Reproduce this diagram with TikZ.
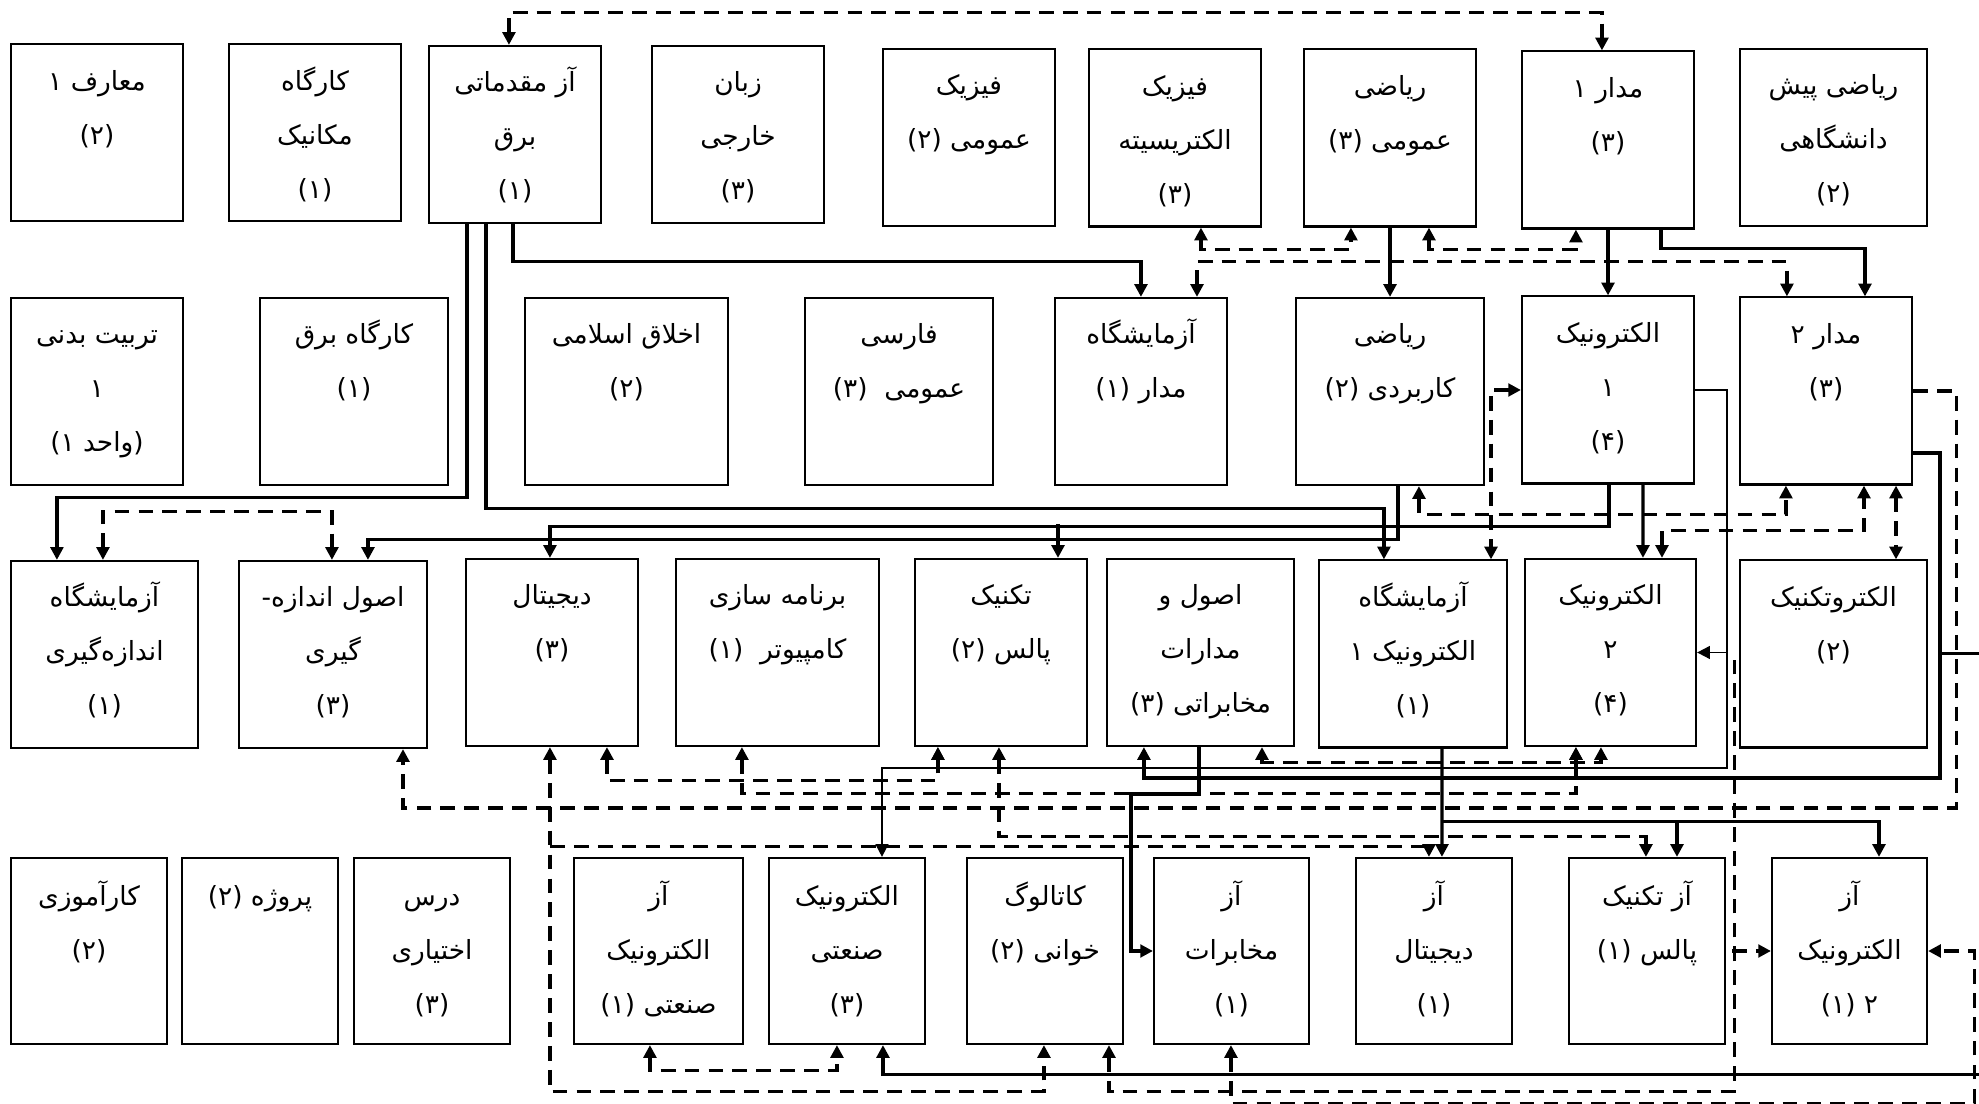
\documentclass[tikz,border=0pt]{standalone}
\usepackage{fontspec}
\usetikzlibrary{arrows.meta}
\TeXXeTstate=1
\newfontfamily\fafont[Script=Arabic]{DejaVu Sans}
\newcommand{\fatext}[1]{\rule{0pt}{2.8mm}\beginR #1\endR}
\tikzset{
    course/.style={draw,line width=0.6pt,inner sep=0pt,minimum width=17.2mm,minimum height=18.7mm},
    topcourse/.style={course,minimum height=17.7mm},
    coursename/.style={anchor=north,align=center,inner sep=0pt,font=\fafont\fontsize{7.5}{15.4}\selectfont},
    prereq/.style={line width=0.9pt},
    heavy/.style={line width=1.1pt},
    fine/.style={line width=0.55pt},
    coreq/.style={line width=0.9pt,dash pattern=on 4.2pt off 2.6pt},
    arr/.style={-{Triangle[length=3.6pt,width=3.6pt]}},
    backarr/.style={{Triangle[length=3.6pt,width=3.6pt]}-},
    both/.style={{Triangle[length=3.6pt,width=3.6pt]}-{Triangle[length=3.6pt,width=3.6pt]}}
}

\begin{document}
\begin{tikzpicture}[x=0.01cm,y=-0.01cm]
    \useasboundingbox (0,0) rectangle (1979,1104);

    \node[topcourse] (maaref) at (97,132.5) {};
    \node[topcourse] (kmek) at (315,132.5) {};
    \node[topcourse] (azmq) at (515,134.5) {};
    \node[topcourse] (zaban) at (738,134.5) {};
    \node[topcourse] (fiz) at (969,137.5) {};
    \node[topcourse] (fizel) at (1175,138) {};
    \node[topcourse] (riaz) at (1390,138) {};
    \node[topcourse] (mad1) at (1608,140) {};
    \node[topcourse,minimum width=18.7mm] (pish) at (1833.5,137.5) {};

    \node[course] (tarb) at (97,391.5) {};
    \node[course,minimum width=18.8mm] (kbargh) at (354,391.5) {};
    \node[course,minimum width=20.3mm] (akhl) at (626.5,391.5) {};
    \node[course,minimum width=18.8mm] (fars) at (899,391.5) {};
    \node[course] (azmad) at (1141,391.5) {};
    \node[course,minimum width=18.8mm] (riazk) at (1390,391.5) {};
    \node[course] (elec1) at (1608,390) {};
    \node[course] (mad2) at (1826,391) {};

    \node[course,minimum width=18.7mm] (azand) at (104.5,654.5) {};
    \node[course,minimum width=18.8mm] (osand) at (333,654.5) {};
    \node[course] (dig) at (552,652.5) {};
    \node[course,minimum width=20.3mm] (barn) at (777.5,652.5) {};
    \node[course] (puls) at (1001,652.5) {};
    \node[course,minimum width=18.7mm] (mokh) at (1200.5,652.5) {};
    \node[course,minimum width=18.8mm] (azel1) at (1413,654) {};
    \node[course,minimum width=17.1mm] (elec2) at (1610.5,652.5) {};
    \node[course,minimum width=18.7mm] (eltech) at (1833.5,654) {};

    \node[course,minimum width=15.6mm,minimum height=18.6mm] (karam) at (89,951) {};
    \node[course,minimum width=15.6mm,minimum height=18.6mm] (proj) at (260,951) {};
    \node[course,minimum width=15.6mm,minimum height=18.6mm] (darse) at (432,951) {};
    \node[course,minimum width=16.9mm,minimum height=18.6mm] (azsan) at (658.5,951) {};
    \node[course,minimum width=15.6mm,minimum height=18.6mm] (elsan) at (847,951) {};
    \node[course,minimum width=15.6mm,minimum height=18.6mm] (katal) at (1045,951) {};
    \node[course,minimum width=15.5mm,minimum height=18.6mm] (azmokh) at (1231.5,951) {};
    \node[course,minimum width=15.6mm,minimum height=18.6mm] (azdig) at (1434,951) {};
    \node[course,minimum width=15.6mm,minimum height=18.6mm] (azpuls) at (1647,951) {};
    \node[course,minimum width=15.5mm,minimum height=18.6mm] (azel2) at (1849.5,951) {};

    \node[coursename] (maarefT) at ([yshift=-1.9mm]maaref.north) {\fatext{معارف ۱}\\\fatext{(۲)}};
    \node[coursename] (kmekT) at ([yshift=-1.9mm]kmek.north) {\fatext{کارگاه}\\\fatext{مکانیک}\\\fatext{(۱)}};
    \node[coursename] (azmqT) at ([yshift=-1.8mm]azmq.north) {\fatext{آز مقدماتی}\\\fatext{برق}\\\fatext{(۱)}};
    \node[coursename] (zabanT) at ([yshift=-1.8mm]zaban.north) {\fatext{زبان}\\\fatext{خارجی}\\\fatext{(۳)}};
    \node[coursename] (fizT) at ([yshift=-1.8mm]fiz.north) {\fatext{فیزیک}\\\fatext{عمومی (۲)}};
    \node[coursename] (fizelT) at ([yshift=-1.8mm]fizel.north) {\fatext{فیزیک}\\\fatext{الکتریسیته}\\\fatext{(۳)}};
    \node[coursename] (riazT) at ([yshift=-1.8mm]riaz.north) {\fatext{ریاضی}\\\fatext{عمومی (۳)}};
    \node[coursename] (mad1T) at ([yshift=-1.8mm]mad1.north) {\fatext{مدار ۱}\\\fatext{(۳)}};
    \node[coursename] (pishT) at ([yshift=-1.8mm]pish.north) {\fatext{ریاضی پیش}\\\fatext{دانشگاهی}\\\fatext{(۲)}};

    \node[coursename] (tarbT) at ([yshift=-1.8mm]tarb.north) {\fatext{تربیت بدنی}\\\fatext{۱}\\\fatext{(واحد ۱)}};
    \node[coursename] (kbarghT) at ([yshift=-1.8mm]kbargh.north) {\fatext{کارگاه برق}\\\fatext{(۱)}};
    \node[coursename] (akhlT) at ([yshift=-1.8mm]akhl.north) {\fatext{اخلاق اسلامی}\\\fatext{(۲)}};
    \node[coursename] (farsT) at ([yshift=-1.8mm]fars.north) {\fatext{فارسی}\\\fatext{عمومی~ (۳)}};
    \node[coursename] (azmadT) at ([yshift=-1.8mm]azmad.north) {\fatext{آزمایشگاه}\\\fatext{مدار (۱)}};
    \node[coursename] (riazkT) at ([yshift=-1.8mm]riazk.north) {\fatext{ریاضی}\\\fatext{کاربردی (۲)}};
    \node[coursename] (elec1T) at ([yshift=-1.8mm]elec1.north) {\fatext{الکترونیک}\\\fatext{۱}\\\fatext{(۴)}};
    \node[coursename] (mad2T) at ([yshift=-1.8mm]mad2.north) {\fatext{مدار ۲}\\\fatext{(۳)}};

    \node[coursename] (azandT) at ([yshift=-1.8mm]azand.north) {\fatext{آزمایشگاه}\\\fatext{اندازه‌گیری}\\\fatext{(۱)}};
    \node[coursename] (osandT) at ([yshift=-1.8mm]osand.north) {\fatext{اصول اندازه-}\\\fatext{گیری}\\\fatext{(۳)}};
    \node[coursename] (digT) at ([yshift=-1.8mm]dig.north) {\fatext{دیجیتال}\\\fatext{(۳)}};
    \node[coursename] (barnT) at ([yshift=-1.8mm]barn.north) {\fatext{برنامه سازی}\\\fatext{کامپیوتر~ (۱)}};
    \node[coursename] (pulsT) at ([yshift=-1.8mm]puls.north) {\fatext{تکنیک}\\\fatext{پالس (۲)}};
    \node[coursename] (mokhT) at ([yshift=-1.8mm]mokh.north) {\fatext{اصول و}\\\fatext{مدارات}\\\fatext{مخابراتی (۳)}};
    \node[coursename] (azel1T) at ([yshift=-1.8mm]azel1.north) {\fatext{آزمایشگاه}\\\fatext{الکترونیک ۱}\\\fatext{(۱)}};
    \node[coursename] (elec2T) at ([yshift=-1.8mm]elec2.north) {\fatext{الکترونیک}\\\fatext{۲}\\\fatext{(۴)}};
    \node[coursename] (eltechT) at ([yshift=-1.8mm]eltech.north) {\fatext{الکتروتکنیک}\\\fatext{(۲)}};

    \node[coursename] (karamT) at ([yshift=-2mm]karam.north) {\fatext{کارآموزی}\\\fatext{(۲)}};
    \node[coursename] (projT) at ([yshift=-2mm]proj.north) {\fatext{پروژه (۲)}};
    \node[coursename] (darseT) at ([yshift=-2mm]darse.north) {\fatext{درس}\\\fatext{اختیاری}\\\fatext{(۳)}};
    \node[coursename] (azsanT) at ([yshift=-2mm]azsan.north) {\fatext{آز}\\\fatext{الکترونیک}\\\fatext{صنعتی (۱)}};
    \node[coursename] (elsanT) at ([yshift=-2mm]elsan.north) {\fatext{الکترونیک}\\\fatext{صنعتی}\\\fatext{(۳)}};
    \node[coursename] (katalT) at ([yshift=-2mm]katal.north) {\fatext{کاتالوگ}\\\fatext{خوانی (۲)}};
    \node[coursename] (azmokhT) at ([yshift=-2mm]azmokh.north) {\fatext{آز}\\\fatext{مخابرات}\\\fatext{(۱)}};
    \node[coursename] (azdigT) at ([yshift=-2mm]azdig.north) {\fatext{آز}\\\fatext{دیجیتال}\\\fatext{(۱)}};
    \node[coursename] (azpulsT) at ([yshift=-2mm]azpuls.north) {\fatext{آز تکنیک}\\\fatext{پالس (۱)}};
    \node[coursename] (azel2T) at ([yshift=-2mm]azel2.north) {\fatext{آز}\\\fatext{الکترونیک}\\\fatext{۲ (۱)}};

    \draw[coreq,both] ([xshift=8.1mm]azmq.north west) -- ++(0,-32) -| ([xshift=8.1mm]mad1.north west);
    \draw[prereq,arr] ([xshift=8.5mm]azmq.south west) -- ++(0,37) -| ([xshift=8.7mm]azmad.north west);
    \draw[prereq,arr] ([xshift=3.9mm]azmq.south west) -- ++(0,273) -| ([xshift=4.7mm]azand.north west);
    \draw[prereq,arr] ([xshift=5.8mm]azmq.south west) -- ++(0,284) -| ([xshift=6.6mm]azel1.north west);
    \draw[coreq,both] ([xshift=9.3mm]azand.north west) -- ++(0,-48) -| ([xshift=9.4mm]osand.north west);
    \draw[prereq,arr] ([xshift=10.3mm]riazk.south west) -- ++(0,53) -| ([xshift=13mm]osand.north west);
    \draw[prereq,arr] ([xshift=8.8mm]elec1.south west) -- ++(0,42) -| ([xshift=8.5mm]dig.north west);
    \draw[prereq,arr] ([xshift=14.4mm,yshift=3.4mm]puls.north west) -- ([xshift=14.4mm]puls.north west);
    \draw[prereq,arr] (riaz.south) -- (riazk.north);
    \draw[prereq,arr] (mad1.south) -- (elec1.north);
    \draw[prereq,arr] ([xshift=14mm]mad1.south west) -- ++(0,19) -| ([xshift=12.6mm]mad2.north west);
    \draw[coreq,both] ([xshift=11.3mm]fizel.south west) -- ++(0,22) -| ([xshift=4.8mm]riaz.south west);
    \draw[coreq,both] ([xshift=12.6mm]riaz.south west) -- ++(0,22) -| ([xshift=5.5mm]mad1.south west);
    \draw[coreq,both] ([xshift=14.3mm]azmad.north west) -- ++(0,-35) -| ([xshift=4.8mm]mad2.north west);
    \draw[coreq,both] (elec1.west) -| ([xshift=17.3mm]azel1.north west);
    \draw[coreq,both] ([xshift=12.4mm]riazk.south west) -- ++(0,28) -| ([xshift=4.7mm]mad2.south west);
    \draw[coreq,both] ([xshift=13.8mm]elec2.north west) -- ++(0,-27) -| ([xshift=12.5mm]mad2.south west);
    \draw[prereq,arr] ([xshift=12.2mm]elec1.south west) -- ([xshift=11.9mm]elec2.north west);
    \draw[coreq,both] ([xshift=15.7mm]mad2.south west) -- ([xshift=15.7mm]mad2.south west |- eltech.north);

    \draw[fine,arr] (elec1.east) -- ++(32,0) -- ++(0,378) -| ([xshift=11.4mm]elsan.north west);
    \draw[fine,arr] ([xshift=2.4mm,yshift=-2.1mm]puls.south west) -- ([xshift=2.4mm]puls.south west);
    \draw[fine,arr] ([xshift=3mm]elec2.east) -- (elec2.east);
    \draw[heavy,arr] ([yshift=-6.2mm]mad2.east) -- ++(27,0) -- ++(0,325) -| ([xshift=3.8mm]mokh.south west);
    \draw[heavy,arr] ([xshift=5.2mm,yshift=-3.2mm]elec2.south west) -- ([xshift=5.2mm]elec2.south west);
    \draw[prereq,arr] ([xshift=2.7mm,yshift=-26.2mm]mad2.east) -- ++(50,0) -- ++(0,421) -| ([xshift=11.5mm]elsan.south west);
    \draw[coreq,arr] (mad2.east) -- ++(43,0) -- ++(0,417) -| ([xshift=16.5mm]osand.south west);
    \draw[coreq,both] ([xshift=15.6mm]mokh.south west) -- ++(0,15) -| ([xshift=7.7mm]elec2.south west);
    \draw[coreq,both] ([xshift=14.2mm]dig.south west) -- ++(0,33) -| ([xshift=2.4mm]puls.south west);
    \draw[coreq,both] ([xshift=6.7mm]barn.south west) -- ++(0,46) -| ([xshift=5.2mm]elec2.south west);
    \draw[coreq,both] ([xshift=8.5mm]dig.south west) -- ++(0,344) -| ([xshift=7.8mm]katal.south west);
    \draw[coreq,arr] ([xshift=8.5mm,yshift=-9.9mm]dig.south west) -| ([xshift=7.4mm]azdig.north west);
    \draw[coreq,both] ([xshift=8.5mm]puls.south west) -- ++(0,89) -| ([xshift=7.8mm]azpuls.north west);
    \draw[heavy,arr] ([xshift=9.3mm]mokh.south west) -- ++(0,47) -- ++(-68,0) |- (azmokh.west);
    \draw[prereq,arr] ([xshift=12.4mm]azel1.south west) -- ([xshift=8.7mm]azdig.north west);
    \draw[prereq,arr] ([xshift=8.7mm,yshift=3.5mm]azdig.north west) -| ([xshift=10.9mm]azpuls.north west);
    \draw[prereq,arr] ([xshift=10.9mm,yshift=3.5mm]azpuls.north west) -| ([xshift=10.8mm]azel2.north west);
    \draw[coreq,backarr] ([xshift=14.3mm]katal.south west) -- ++(0,46) -| ([xshift=3.7mm]elec2.east);
    \draw[coreq,arr] ([xshift=-3.9mm]azel2.west) -- (azel2.west);
    \draw[coreq,both] ([xshift=7.8mm]azmokh.south west) -- ++(0,58) -| ([xshift=4.6mm]azel2.east) -- (azel2.east);
    \draw[coreq,both] ([xshift=7.7mm]azsan.south west) -- ++(0,25) -| ([xshift=6.9mm]elsan.south west);
\end{tikzpicture}
\end{document}
